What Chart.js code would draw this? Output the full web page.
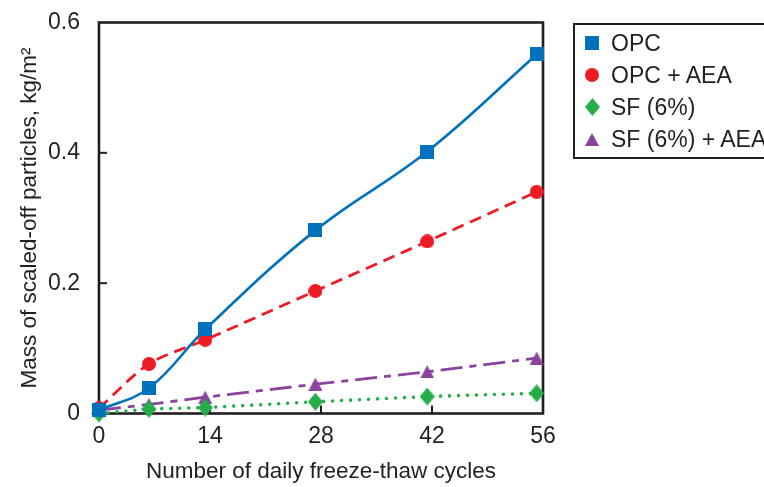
<!DOCTYPE html>
<html>
<head>
<meta charset="utf-8">
<script src="https://cdn.jsdelivr.net/npm/chart.js@4/dist/chart.umd.min.js"></script>
<style>
  html, body { margin: 0; padding: 0; background: #fff; overflow: hidden; }
  #wrap { position: relative; width: 764px; height: 487px; }
  #legend {
    position: absolute; left: 573px; top: 23px; width: 220px; height: 130px;
    border: 2px solid #231f20; font-family: "Liberation Sans", Arial, sans-serif;
    font-size: 23px; color: #231f20; padding-top: 2px;
  }
  .row { height: 32px; display: flex; align-items: center; white-space: nowrap; }
  .row .mk { width: 36px; display: flex; justify-content: center; padding-right: 2px; box-sizing: border-box; }
  .row canvas { display: block; }
</style>
</head>
<body>
<div id="wrap">
  <canvas id="chart" width="764" height="487"></canvas>
  <div id="legend"></div>
</div>
<script>
// Scaling mass vs freeze-thaw cycles
const cycles = [0, 6.3, 13.4, 27.3, 41.4, 55.2];
const opc = [0.005, 0.039, 0.129, 0.281, 0.402, 0.551];
const opcAea = [0.008, 0.076, 0.113, 0.188, 0.264, 0.340];
const sf = [0.0, 0.007, 0.009, 0.018, 0.026, 0.031];
const sfAea = [0.005, 0.014, 0.025, 0.045, 0.064, 0.085];
const xTicks = [0, 14, 28, 42, 56];
const yTicks = [0, 0.2, 0.4, 0.6];

const INK = '#231f20';
const FONT = '"Liberation Sans", Arial, sans-serif';

function marker(shape, color, w, h) {
    const c = document.createElement('canvas');
    c.width = w; c.height = h;
    const ctx = c.getContext('2d');
    ctx.fillStyle = color;
    ctx.beginPath();
    if (shape === 'square') {
        ctx.rect(0, 0, w, h);
    } else if (shape === 'circle') {
        ctx.arc(w / 2, h / 2, w / 2, 0, Math.PI * 2);
    } else if (shape === 'diamond') {
        ctx.moveTo(w / 2, 0); ctx.lineTo(w, h / 2); ctx.lineTo(w / 2, h); ctx.lineTo(0, h / 2);
    } else {
        ctx.moveTo(w / 2, 0); ctx.lineTo(w, h); ctx.lineTo(0, h);
    }
    ctx.closePath();
    ctx.fill();
    return c;
}

const series = [
    { label: 'OPC', values: opc, color: '#0071bc', shape: 'square', w: 14, h: 14, dash: [], tension: 0.4, width: 2.6 },
    { label: 'OPC + AEA', values: opcAea, color: '#ed1c24', shape: 'circle', w: 14, h: 14, dash: [12, 7], tension: 0.3, width: 2.8 },
    { label: 'SF (6%)', values: sf, color: '#25ad4a', shape: 'diamond', w: 15, h: 18, dash: [0, 9], tension: 0, width: 3.6 },
    { label: 'SF (6%) + AEA', values: sfAea, color: '#8b449b', shape: 'triangle', w: 14, h: 13, dash: [22, 7, 7, 7], tension: 0, width: 2.8 },
];

const frame = {
    id: 'frame',
    beforeDatasetsDraw(chart) {
        const { ctx, chartArea: a, scales: { x, y } } = chart;
        ctx.save();
        ctx.strokeStyle = INK;
        ctx.lineWidth = 2;
        xTicks.slice(1, -1).forEach((v) => {
            const px = x.getPixelForValue(v);
            ctx.beginPath(); ctx.moveTo(px, a.bottom); ctx.lineTo(px, a.bottom - 8); ctx.stroke();
        });
        yTicks.slice(1, -1).forEach((v) => {
            const py = y.getPixelForValue(v);
            ctx.beginPath(); ctx.moveTo(a.left, py); ctx.lineTo(a.left + 8, py); ctx.stroke();
        });
        ctx.lineWidth = 2.6;
        ctx.strokeRect(a.left, a.top, a.right - a.left, a.bottom - a.top);
        ctx.restore();
    }
};

new Chart(document.getElementById('chart').getContext('2d'), {
    type: 'line',
    data: {
        datasets: series.map((s) => ({
            label: s.label,
            data: cycles.map((c, i) => ({ x: c, y: s.values[i] })),
            borderColor: s.color,
            backgroundColor: s.color,
            borderWidth: s.width,
            borderDash: s.dash,
            borderCapStyle: s.dash.length && s.dash[0] === 0 ? 'round' : 'butt',
            tension: s.tension,
            pointStyle: marker(s.shape, s.color, s.w, s.h),
            pointRadius: 7,
            clip: false,
        }))
    },
    options: {
        responsive: false,
        animation: false,
        layout: { padding: { top: 22.5, right: 221, bottom: 0, left: 16.5 } },
        plugins: { legend: { display: false }, tooltip: { enabled: false } },
        scales: {
            x: {
                type: 'linear', min: 0, max: 56,
                afterBuildTicks: (s) => { s.ticks = xTicks.map((v) => ({ value: v })); },
                grid: { display: false, drawTicks: true, tickLength: 9.7 },
                border: { display: false },
                ticks: { color: INK, font: { family: FONT, size: 23 }, padding: 0 },
                title: { display: true, text: 'Number of daily freeze-thaw cycles', color: INK,
                    font: { family: FONT, size: 22.5 }, padding: { top: 7.7, bottom: 1.5 } }
            },
            y: {
                min: 0, max: 0.6,
                afterBuildTicks: (s) => { s.ticks = yTicks.map((v) => ({ value: v })); },
                grid: { display: false, drawTicks: true, tickLength: 19 },
                border: { display: false },
                ticks: { color: INK, font: { family: FONT, size: 23 }, padding: 0,
                    callback: (v) => (v === 0 ? '0' : v.toFixed(1)) },
                title: { display: true, text: 'Mass of scaled-off particles, kg/m\u00b2', color: INK,
                    font: { family: FONT, size: 22.5 }, padding: { top: 0, bottom: 4.5 } }
            }
        }
    },
    plugins: [frame]
});

const legend = document.getElementById('legend');
series.forEach((s) => {
    const row = document.createElement('div');
    row.className = 'row';
    const mk = document.createElement('div');
    mk.className = 'mk';
    mk.appendChild(marker(s.shape, s.color, s.w, s.h));
    const txt = document.createElement('span');
    txt.textContent = s.label;
    row.appendChild(mk);
    row.appendChild(txt);
    legend.appendChild(row);
});
</script>
</body>
</html>
